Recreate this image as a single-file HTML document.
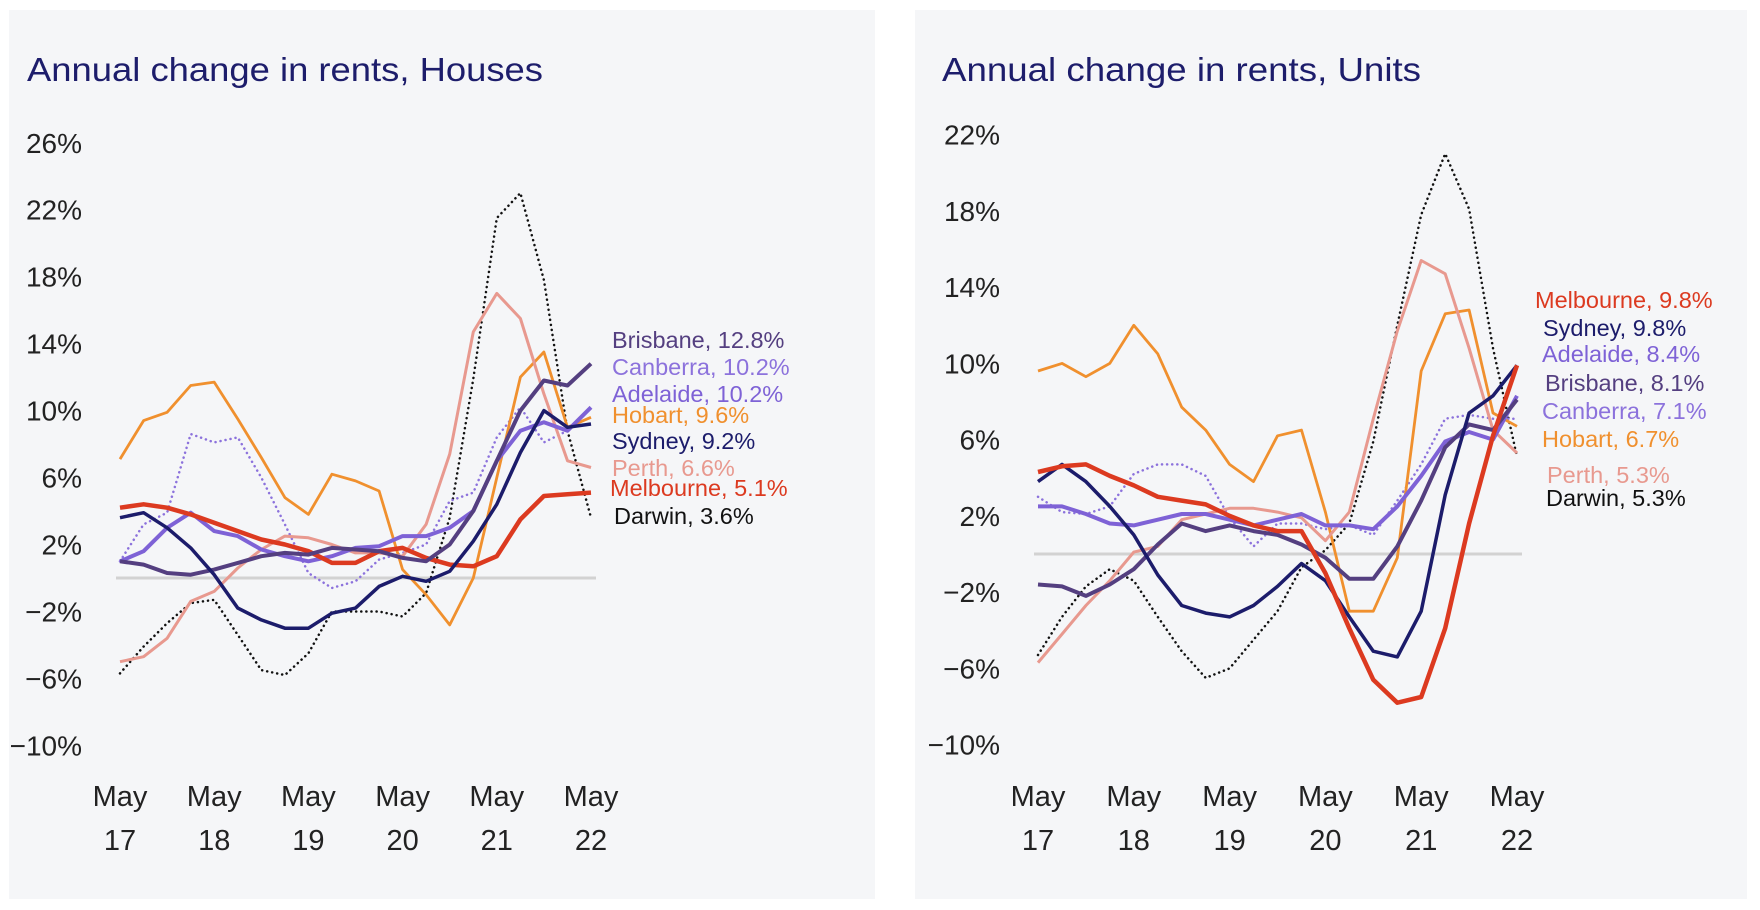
<!DOCTYPE html>
<html><head><meta charset="utf-8">
<style>
html,body{margin:0;padding:0;background:#fff;width:1760px;height:910px;overflow:hidden}
svg{display:block}
text{font-family:"Liberation Sans",sans-serif}
</style></head>
<body>
<svg id="root" width="1760" height="910" xmlns="http://www.w3.org/2000/svg">
  <rect x="9" y="10" width="866" height="889" fill="#f5f6f8"/>
  <rect x="915" y="10" width="832" height="889" fill="#f5f6f8"/>
  <text x="27" y="81" font-size="33" fill="#1d1d6b" textLength="516" lengthAdjust="spacingAndGlyphs">Annual change in rents, Houses</text>
  <text x="942" y="81" font-size="33" fill="#1d1d6b" textLength="479" lengthAdjust="spacingAndGlyphs">Annual change in rents, Units</text>
  <g id="houses"></g>
  <g id="units"></g>
</svg>
<script>
// shared time axis: years since May 2017, quarterly
const tGrid = [0,0.25,0.5,0.75,1,1.25,1.5,1.75,2,2.25,2.5,2.75,3,3.25,3.5,3.75,4,4.25,4.5,4.75,5];
const xTickLabels = ["17","18","19","20","21","22"];

// Houses
const hYTicks = [26,22,18,14,10,6,2,-2,-6,-10];
const hSydney    = [3.6,3.9,3.0,1.8,0.2,-1.8,-2.5,-3.0,-3.0,-2.1,-1.8,-0.5,0.1,-0.2,0.4,2.2,4.4,7.5,10.0,9.0,9.2];
const hBrisbane  = [1.0,0.8,0.3,0.2,0.5,0.9,1.3,1.5,1.4,1.8,1.7,1.6,1.2,1.0,2.0,4.0,7.0,10.0,11.8,11.5,12.8];
const hMelbourne = [4.2,4.4,4.2,3.8,3.3,2.8,2.3,2.0,1.6,0.9,0.9,1.6,1.8,1.2,0.8,0.7,1.3,3.5,4.9,5.0,5.1];
const hHobart    = [7.1,9.4,9.9,11.5,11.7,9.5,7.2,4.8,3.8,6.2,5.8,5.2,0.5,-1.0,-2.8,0.0,6.0,12.0,13.5,9.0,9.6];
const hPerth     = [-5.0,-4.7,-3.6,-1.4,-0.8,0.6,1.7,2.5,2.4,2.0,1.5,1.5,1.3,3.2,7.4,14.7,17.0,15.5,11.0,7.0,6.6];
const hAdelaide  = [1.0,1.6,3.0,3.9,2.8,2.5,1.7,1.3,1.0,1.3,1.8,1.9,2.5,2.5,3.0,4.0,7.0,8.8,9.3,8.8,10.2];
const hCanberra  = [1.0,3.2,3.9,8.6,8.1,8.4,6.0,3.2,0.3,-0.6,-0.2,1.1,1.5,2.0,4.6,5.1,8.4,10.2,8.1,8.8,10.2];
const hDarwin    = [-5.7,-4.1,-2.7,-1.5,-1.3,-3.4,-5.5,-5.8,-4.5,-2.0,-2.0,-2.0,-2.3,-0.9,3.6,11.9,21.5,23.0,17.8,8.8,3.6];
const hLabels = ["Brisbane, 12.8%","Canberra, 10.2%","Adelaide, 10.2%","Hobart, 9.6%","Sydney, 9.2%","Perth, 6.6%","Melbourne, 5.1%","Darwin, 3.6%"];

// Units
const uYTicks = [22,18,14,10,6,2,-2,-6,-10];
const uSydney    = [3.8,4.7,3.8,2.5,1.0,-1.1,-2.7,-3.1,-3.3,-2.7,-1.7,-0.5,-1.4,-3.3,-5.1,-5.4,-3.0,3.1,7.4,8.3,9.9];
const uMelbourne = [4.3,4.6,4.7,4.1,3.6,3.0,2.8,2.6,2.0,1.5,1.2,1.2,-1.0,-3.9,-6.6,-7.8,-7.5,-3.9,1.6,6.2,9.9];
const uHobart    = [9.6,10.0,9.3,10.0,12.0,10.5,7.7,6.5,4.7,3.8,6.2,6.5,2.2,-3.0,-3.0,-0.2,9.6,12.6,12.8,7.4,6.7];
const uPerth     = [-5.7,-4.2,-2.7,-1.4,0.1,0.4,1.8,2.1,2.4,2.4,2.2,1.9,0.7,2.2,7.1,11.7,15.4,14.7,10.8,6.5,5.3];
const uBrisbane  = [-1.6,-1.7,-2.2,-1.6,-0.8,0.5,1.6,1.2,1.5,1.2,1.0,0.5,-0.2,-1.3,-1.3,0.4,2.8,5.6,6.8,6.5,8.1];
const uAdelaide  = [2.5,2.5,2.1,1.6,1.5,1.8,2.1,2.1,1.8,1.5,1.8,2.1,1.5,1.5,1.3,2.5,4.1,5.9,6.4,6.0,8.3];
const uCanberra  = [3.0,2.2,2.1,2.5,4.2,4.7,4.7,4.1,1.9,0.4,1.6,1.6,1.3,1.5,1.0,2.8,4.7,7.1,7.3,7.1,7.1];
const uDarwin    = [-5.3,-3.3,-1.7,-0.8,-1.4,-3.3,-5.1,-6.5,-6.0,-4.5,-3.0,-0.7,0.2,1.6,5.9,12.0,17.8,21.0,18.1,10.8,5.1];
const uLabels = ["Melbourne, 9.8%","Sydney, 9.8%","Adelaide, 8.4%","Brisbane, 8.1%","Canberra, 7.1%","Hobart, 6.7%","Perth, 5.3%","Darwin, 5.3%"];

const NS = "http://www.w3.org/2000/svg";
function mk(tag, attrs, parent){const e=document.createElementNS(NS,tag);for(const k in attrs)e.setAttribute(k,attrs[k]);parent.appendChild(e);return e;}

const C = {syd:"#1c1c6b",bri:"#543f80",mel:"#dc3a20",hob:"#f0902e",per:"#e8998f",ade:"#7e62d6",can:"#8c72dc",dar:"#111111"};

function drawChart(g, cfg){
  const x = t => cfg.x0 + (cfg.x1-cfg.x0)*t/5;
  const y = v => cfg.zeroY - v*cfg.perPct;
  cfg.yTicks.forEach(v=>{
    const tx = mk("text",{x:cfg.labelRight,y:y(v)+10,"font-size":28,fill:"#222","text-anchor":"end"},g);
    tx.textContent = (v<0?"\u2212"+Math.abs(v):v)+"%";
    
    
  });
  xTickLabels.forEach((lab,i)=>{
    const a = mk("text",{x:x(i),y:806,"font-size":29,fill:"#222","text-anchor":"middle"},g);
    a.textContent="May";
    
    
    const b = mk("text",{x:x(i),y:850,"font-size":29,fill:"#222","text-anchor":"middle"},g);
    b.textContent=lab;
    
    
  });
  const z = mk("line",{x1:cfg.x0-4,x2:cfg.x1+5,y1:y(0),y2:y(0),stroke:"#d2d2d2","stroke-width":3},g);
  
  
  cfg.series.forEach(s=>{
    const d = s.data.map((v,i)=>(i?"L":"M")+x(tGrid[i]).toFixed(1)+" "+y(v).toFixed(1)).join(" ");
    const p = mk("path",{d:d,fill:"none",stroke:s.color,"stroke-width":s.w,"stroke-linejoin":"round","stroke-linecap":s.dot?"round":"butt"},g);
    if(s.dot) p.setAttribute("stroke-dasharray","0.1 5");
    
    
  });
  cfg.labels.forEach((l,i)=>{
    const t = mk("text",{x:cfg.lx[i],y:cfg.ly[i],"font-size":23.5,fill:cfg.lc[i]},g);
    t.textContent = l;
    
    
  });
}

drawChart(document.getElementById("houses"),{
  x0:120,x1:591,zeroY:578,perPct:16.74,labelRight:82,yTicks:hYTicks,
  series:[
    {name:"darwin",data:hDarwin,color:C.dar,w:2.5,dot:true},
    {name:"canberra",data:hCanberra,color:C.can,w:2.5,dot:true},
    {name:"hobart",data:hHobart,color:C.hob,w:2.8},
    {name:"perth",data:hPerth,color:C.per,w:3},
    {name:"adelaide",data:hAdelaide,color:C.ade,w:4},
    {name:"melbourne",data:hMelbourne,color:C.mel,w:4.5},
    {name:"brisbane",data:hBrisbane,color:C.bri,w:4},
    {name:"sydney",data:hSydney,color:C.syd,w:3.5}
  ],
  labels:hLabels,
  lx:[612,612,612,612,612,612,610,614],
  ly:[348,375,402,423,449,476,496,524],
  lc:[C.bri,C.can,C.ade,C.hob,C.syd,C.per,C.mel,"#111"]
});

drawChart(document.getElementById("units"),{
  x0:1038,x1:1517,zeroY:554,perPct:19.06,labelRight:1000,yTicks:uYTicks,
  series:[
    {name:"darwin",data:uDarwin,color:C.dar,w:2.5,dot:true},
    {name:"canberra",data:uCanberra,color:C.can,w:2.5,dot:true},
    {name:"hobart",data:uHobart,color:C.hob,w:2.8},
    {name:"perth",data:uPerth,color:C.per,w:3},
    {name:"adelaide",data:uAdelaide,color:C.ade,w:4},
    {name:"brisbane",data:uBrisbane,color:C.bri,w:4},
    {name:"sydney",data:uSydney,color:C.syd,w:3.5},
    {name:"melbourne",data:uMelbourne,color:C.mel,w:4.5}
  ],
  labels:uLabels,
  lx:[1535,1543,1542,1545,1542,1542,1547,1546],
  ly:[308,336,362,391,419,447,483,506],
  lc:[C.mel,C.syd,C.ade,C.bri,C.can,C.hob,C.per,"#111"]
});
</script>
</body></html>
